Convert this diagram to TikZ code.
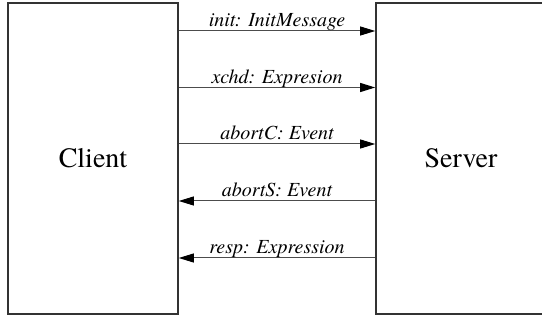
\documentclass[tikz,border=0pt]{standalone}
\usepackage{fontspec}
\newfontfamily\timesf{TeX Gyre Termes}
\usetikzlibrary{arrows.meta}
\newcommand\bigtxt[1]{{\fontsize{28}{32}\selectfont\timesf #1}}
\newcommand\msgtxt[1]{{\fontsize{20}{24}\selectfont\timesf\itshape #1}}
\begin{document}
\begin{tikzpicture}[x=1pt,y=-1pt,
  party/.style={draw=black!80, line width=1.6pt, minimum width=170pt, minimum height=311pt, inner sep=0pt},
  msg/.style={draw=black!70, line width=1pt, -{Triangle[length=15pt,width=9pt,black]}},
  lbl/.style={anchor=base, yshift=4pt, inner sep=0pt}]
\useasboundingbox (0,0) rectangle (542,320);
\node[party] (client) at (93,158.5) {\bigtxt{Client}};
\node[party] (server) at (461,158.5) {\bigtxt{Server}};
\coordinate (m1) at (0,31);
\coordinate (m2) at (0,87.5);
\coordinate (m3) at (0,144);
\coordinate (m4) at (0,201);
\coordinate (m5) at (0,258);
\draw[msg] (client.east |- m1) -- node[lbl] {\msgtxt{init: InitMessage}} (server.west |- m1);
\draw[msg] (client.east |- m2) -- node[lbl] {\msgtxt{xchd: Expresion}} (server.west |- m2);
\draw[msg] (client.east |- m3) -- node[lbl] {\msgtxt{abortC: Event}} (server.west |- m3);
\draw[msg] (server.west |- m4) -- node[lbl] {\msgtxt{abortS: Event}} (client.east |- m4);
\draw[msg] (server.west |- m5) -- node[lbl] {\msgtxt{resp: Expression}} (client.east |- m5);
\end{tikzpicture}
\end{document}
